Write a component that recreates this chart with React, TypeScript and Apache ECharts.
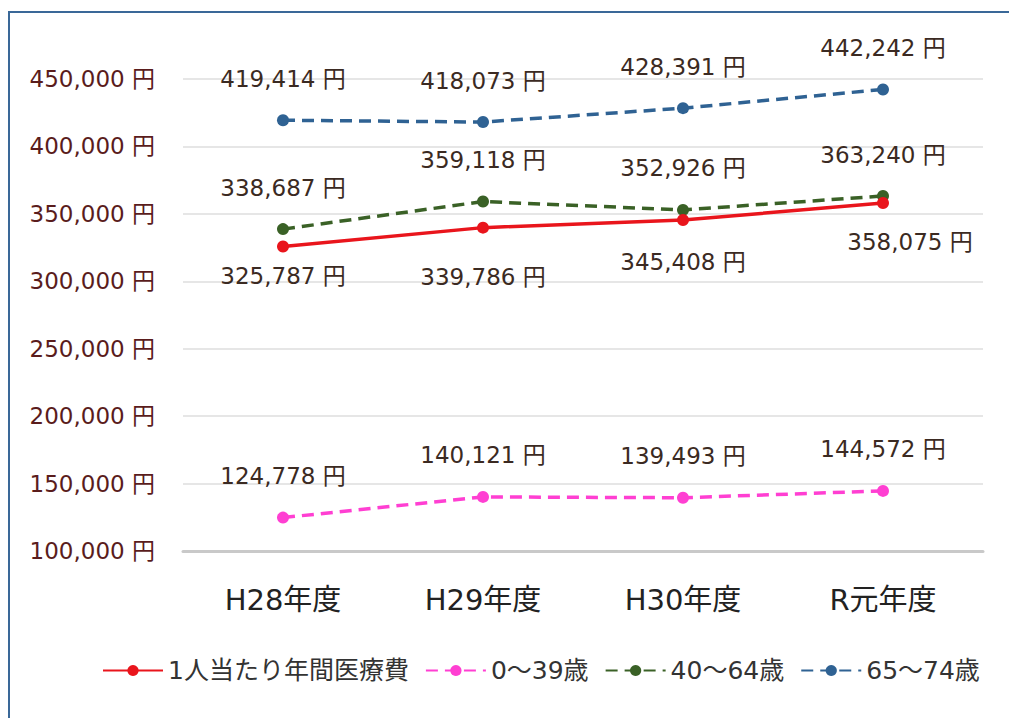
import React, { useEffect, useRef } from "react";
import * as echarts from "echarts";

const categories = ["H28年度", "H29年度", "H30年度", "R元年度"];
const seriesNames = ["1人当たり年間医療費", "0～39歳", "40～64歳", "65～74歳"];
const totalValues = [325787, 339786, 345408, 358075];
const age0to39 = [124778, 140121, 139493, 144572];
const age40to64 = [338687, 359118, 352926, 363240];
const age65to74 = [419414, 418073, 428391, 442242];
const yTicks = { min: 100000, max: 450000, interval: 50000 };

// label offsets (styling only) for the total series
const totalLabelOffsets = [[0, -8], [0, 12], [0, 4], [27, 2]];

const fmt = (v: number) => v.toLocaleString("en-US") + " 円";
const FONT = "'DejaVu Sans', 'Noto Sans CJK JP', sans-serif";

export default function App() {
  const ref = useRef<HTMLDivElement>(null);
  useEffect(() => {
    document.body.style.margin = "0";
    const chart = echarts.init(ref.current!, null, { renderer: "svg" });
    const labelBase = {
      show: true,
      fontSize: 23,
      color: "#3b2a22",
      fontFamily: FONT,
      formatter: (p: any) => fmt(p.value),
    };
    const mk = (name: string, data: number[], color: string, dashed: boolean, pos: string) => ({
      name,
      type: "line",
      data,
      symbol: "circle",
      symbolSize: 12,
      itemStyle: { color },
      lineStyle: { color, width: 3.5, type: dashed ? [12, 7] : "solid" },
      label: { ...labelBase, position: pos, distance: 24 },
      z: 3,
    });
    const totalSeries: any = mk(seriesNames[0], totalValues, "#e9151c", false, "bottom");
    totalSeries.data = totalValues.map((v, i) => ({
      value: v,
      label: { offset: totalLabelOffsets[i] },
    }));
    totalSeries.label.distance = 20;
    totalSeries.z = 4;
    chart.setOption({
      animation: false,
      textStyle: { fontFamily: FONT },
      grid: { left: 183, right: 26, top: 79, bottom: 167 },
      graphic: [
        {
          type: "rect",
          shape: { x: 9, y: 12, width: 1200, height: 900 },
          style: { fill: "none", stroke: "#3a6898", lineWidth: 2 },
          silent: true,
        },
      ],
      legend: {
        top: 653,
        left: 97,
        itemWidth: 60,
        itemHeight: 14,
        itemGap: 16,
        textStyle: { fontSize: 25, color: "#333", fontFamily: FONT },
        data: seriesNames,
      },
      xAxis: {
        type: "category",
        data: categories,
        boundaryGap: true,
        axisTick: { show: false },
        axisLine: { lineStyle: { color: "#c9c9c9", width: 3 } },
        axisLabel: { fontSize: 29, color: "#222", margin: 34, fontFamily: FONT },
      },
      yAxis: {
        type: "value",
        min: yTicks.min,
        max: yTicks.max,
        interval: yTicks.interval,
        axisLine: { show: false },
        axisTick: { show: false },
        splitLine: { lineStyle: { color: "#e6e6e6", width: 2 } },
        axisLabel: {
          fontSize: 23,
          color: "#5a1c1c",
          margin: 28,
          fontFamily: FONT,
          formatter: (v: number) => fmt(v),
        },
      },
      series: [
        totalSeries,
        mk(seriesNames[1], age0to39, "#ff3fd2", true, "top"),
        mk(seriesNames[2], age40to64, "#3a6126", true, "top"),
        mk(seriesNames[3], age65to74, "#2f6293", true, "top"),
      ],
    });
    return () => chart.dispose();
  }, []);
  return <div ref={ref} style={{ width: 1009, height: 718, background: "#fff" }} />;
}
